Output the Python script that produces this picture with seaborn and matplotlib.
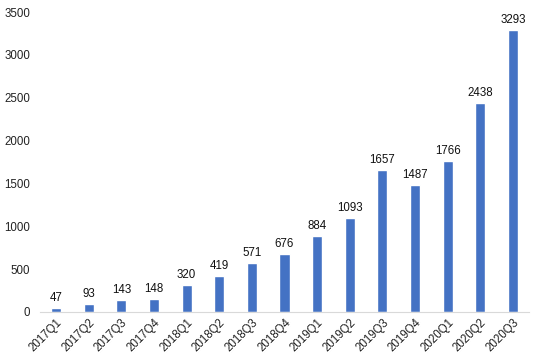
import pandas as pd
import matplotlib.pyplot as plt
import seaborn as sns

# Dados
quarters = ['2017Q1', '2017Q2', '2017Q3', '2017Q4', '2018Q1', '2018Q2', '2018Q3', '2018Q4',
            '2019Q1', '2019Q2', '2019Q3', '2019Q4', '2020Q1', '2020Q2', '2020Q3']
values = [47, 93, 143, 148, 320, 419, 571, 676, 884, 1093, 1657, 1487, 1766, 2438, 3293]

df = pd.DataFrame({'quarter': quarters, 'value': values})

sns.set_style("white")
plt.rcParams['font.family'] = ['Liberation Sans', 'DejaVu Sans']

fig = plt.figure(figsize=(5.44, 3.64), dpi=100)
ax = fig.add_axes([0.073, 0.143, 0.9, 0.824])
sns.barplot(data=df, x='quarter', y='value', color='#4472C4', width=0.31,
            saturation=1, ax=ax)

for i, v in enumerate(values):
    ax.text(i, v + 45, str(v), ha='center', va='bottom', fontsize=8.3, color='#111111')

ax.set_ylim(0, 3500)
ax.set_xlim(-0.5, len(values) - 0.5)
ax.set_yticks(range(0, 3501, 500))
ax.set_xlabel('')
ax.set_ylabel('')
ax.tick_params(axis='both', length=0, labelsize=8.3, colors='#222222')
ax.tick_params(axis='y', pad=7)
plt.setp(ax.get_xticklabels(), rotation=45, ha='right', rotation_mode='anchor')
for s in ['top', 'right', 'left']:
    ax.spines[s].set_visible(False)
ax.spines['bottom'].set_color('#D9D9D9')
ax.spines['bottom'].set_linewidth(0.8)

plt.savefig('out.png', dpi=100)
